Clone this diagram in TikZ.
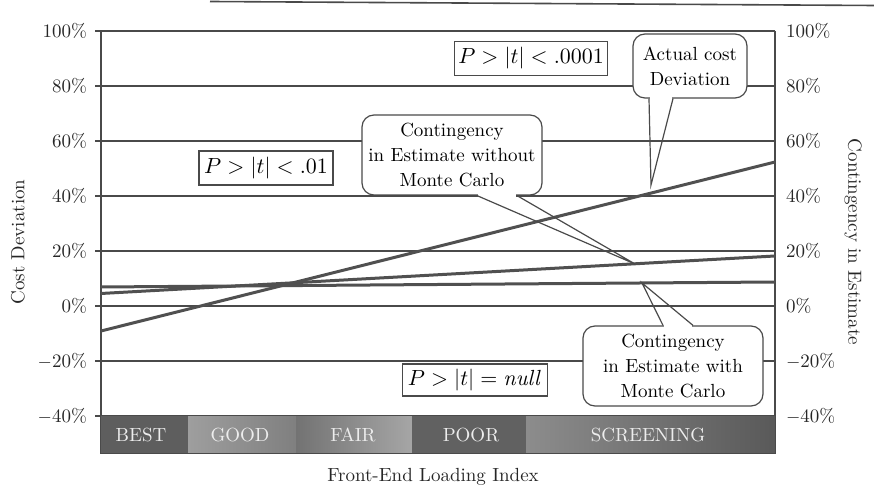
\documentclass[tikz,border=0pt]{standalone}
\usepackage{tikz}
\definecolor{gridgray}{HTML}{4A4A4A}
\definecolor{linegray}{HTML}{505050}
\definecolor{bandtext}{HTML}{EDEDED}
\tikzset{
  grid/.style={draw=gridgray, line width=0.7pt},
  dataline/.style={draw=linegray, line width=1.5pt},
  tick/.style={font=\fontsize{9.5}{11}\selectfont, text=black!85},
  band/.style={font=\fontsize{9.5}{11}\selectfont, text=bandtext},
  pbox/.style={draw=gridgray, fill=white, line width=0.6pt, inner sep=0pt, minimum height=17pt, font=\fontsize{10.5}{12}\selectfont},
  callout/.style={draw=gridgray, fill=white, line width=0.6pt, rounded corners=6pt, align=center, inner sep=0pt, font=\fontsize{9.5}{12.5}\selectfont},
  pointer/.style={draw=gridgray, line width=0.6pt}
}
\begin{document}
\begin{tikzpicture}[x=0.5pt, y=-0.5pt]
      \useasboundingbox (0,0) rectangle (874,491);
      \draw[gridgray, line width=0.8pt] (210,1.5) -- (874,5.5);
      \draw[grid] (95,31) -- (775,31);
      \draw[grid] (95,86) -- (775,86);
      \draw[grid] (95,141) -- (775,141);
      \draw[grid] (95,196) -- (775,196);
      \draw[grid] (95,251) -- (775,251);
      \draw[grid] (95,306) -- (775,306);
      \draw[grid] (95,361) -- (775,361);
      \draw[grid] (95,416) -- (775,416);
      \draw[grid] (101,31) -- (101,416);
      \draw[grid] (775,31) -- (775,416);
      \node[tick, left] (l100) at (94,31) {100\%};
      \node[tick, left] (l80) at (94,86) {80\%};
      \node[tick, left] (l60) at (94,141) {60\%};
      \node[tick, left] (l40) at (94,196) {40\%};
      \node[tick, left] (l20) at (94,251) {20\%};
      \node[tick, left] (l0) at (94,306) {0\%};
      \node[tick, left] (lm20) at (94,361) {$-$20\%};
      \node[tick, left] (lm40) at (94,416) {$-$40\%};
      \node[tick, right] (r100) at (779,31) {100\%};
      \node[tick, right] (r80) at (779,86) {80\%};
      \node[tick, right] (r60) at (779,141) {60\%};
      \node[tick, right] (r40) at (779,196) {40\%};
      \node[tick, right] (r20) at (779,251) {20\%};
      \node[tick, right] (r0) at (779,306) {0\%};
      \node[tick, right] (rm20) at (779,361) {$-$20\%};
      \node[tick, right] (rm40) at (779,416) {$-$40\%};
      \fill[black!63] (100,416) rectangle (188,454);
      \shade[left color=black!38, right color=black!50] (188,416) rectangle (296,454);
      \shade[left color=black!55, right color=black!35] (296,416) rectangle (412,454);
      \fill[black!62] (412,416) rectangle (526,454);
      \shade[left color=black!45, right color=black!65] (526,416) rectangle (775,454);
      \draw[gridgray, line width=0.5pt] (100,416) rectangle (775,454);
      \node[band] (best) at (141,435) {BEST};
      \node[band] (good) at (240,435) {GOOD};
      \node[band] (fair) at (353,435) {FAIR};
      \node[band] (poor) at (471,435) {POOR};
      \node[band] (screen) at (648,435) {SCREENING};
      \draw[dataline] (101,331) -- (775,162);
      \draw[dataline] (101,293.5) -- (775,256);
      \draw[dataline] (101,287) -- (775,282);
      \node[pbox, minimum width=76.5pt] (p4) at (531,58.5) {$P>|t|<.0001$};
      \node[pbox, minimum width=67pt] (p2) at (266,168) {$P>|t|<.01$};
      \node[pbox, minimum width=72.5pt, minimum height=16pt] (pn) at (475,380) {$P>|t|=\mathit{null}$};
      \node[callout, minimum width=90pt, minimum height=40pt] (cwo) at (452,155) {Contingency\\in Estimate without\\Monte Carlo};
      \node[callout, minimum width=57pt, minimum height=32pt] (cac) at (690,66) {Actual cost\\Deviation};
      \node[callout, minimum width=90pt, minimum height=40pt] (cwi) at (673,366) {Contingency\\in Estimate with\\Monte Carlo};
      \coordinate (two) at (635,264);
      \coordinate (tac) at (651,185);
      \coordinate (twi) at (642,283);
      \fill[white] ([xshift=12.8pt, yshift=-0.8pt]cwo.south) rectangle ([xshift=32.2pt, yshift=0.8pt]cwo.south);
      \fill[white] ([xshift=-20.2pt, yshift=-0.8pt]cac.south) rectangle ([xshift=-8.8pt, yshift=0.8pt]cac.south);
      \fill[white] ([xshift=-4.7pt, yshift=-0.8pt]cwi.north) rectangle ([xshift=9.7pt, yshift=0.8pt]cwi.north);
      \draw[pointer] ([xshift=12.5pt]cwo.south) -- (two) -- ([xshift=32.5pt]cwo.south);
      \draw[pointer] ([xshift=-20.5pt]cac.south) -- (tac) -- ([xshift=-8.5pt]cac.south);
      \draw[pointer] ([xshift=-5pt]cwi.north) -- (twi) -- ([xshift=10pt]cwi.north);
      \node[tick, rotate=90] (ylab) at (18,242) {Cost Deviation};
      \node[tick, rotate=-90] (y2lab) at (853,242) {Contingency in Estimate};
      \node[tick] (xlab) at (433,477) {Front-End Loading Index};
    \end{tikzpicture}
\end{document}
